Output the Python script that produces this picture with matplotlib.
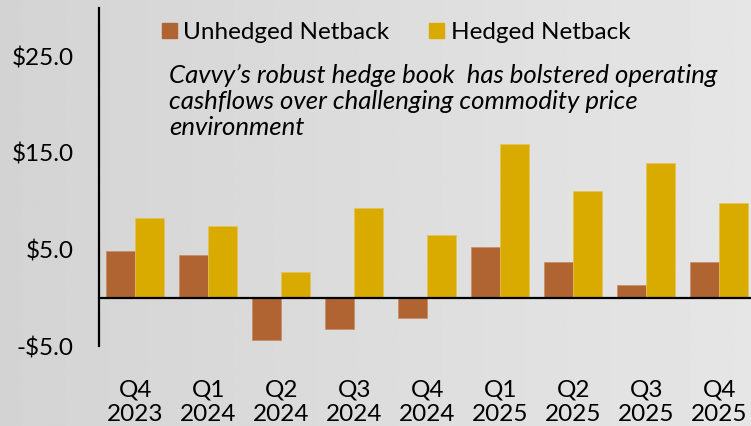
import numpy as np
import matplotlib
matplotlib.use("Agg")
import matplotlib.pyplot as plt
from matplotlib.patches import Patch

quarters = ["Q4\n2023", "Q1\n2024", "Q2\n2024", "Q3\n2024", "Q4\n2024",
            "Q1\n2025", "Q2\n2025", "Q3\n2025", "Q4\n2025"]
unhedged = [4.8, 4.45, -4.35, -3.25, -2.1, 5.3, 3.75, 1.35, 3.75]
hedged = [8.3, 7.4, 2.7, 9.3, 6.5, 15.9, 11.1, 13.9, 9.8]
yticks = [-5, 5, 15, 25]
ytick_labels = ["-$5.0", "$5.0", "$15.0", "$25.0"]
series_names = ["Unhedged Netback", "Hedged Netback"]
note = ("Cavvy\u2019s robust hedge book  has bolstered operating\n"
        "cashflows over challenging commodity price\n"
        "environment")

c_unh = "#B06432"
c_hed = "#D9AA00"
FONT = "Lato"
plt.rcParams["font.family"] = [FONT, "DejaVu Sans"]

W, H = 751, 426
fig = plt.figure(figsize=(W / 100, H / 100), dpi=100)
fig.patch.set_facecolor("#d8d8d8")

# background gradient (styling only)
bg = fig.add_axes([0, 0, 1, 1], zorder=-10)
gx = np.linspace(0, 1, 300)
grad = np.tile(0.83 + 0.07 * gx, (50, 1))
bg.imshow(grad, cmap="gray", vmin=0, vmax=1, aspect="auto", extent=[0, 1, 0, 1])
bg.axis("off")

left = 98.7 / W
bottom = (H - 346) / H
top = (H - 8) / H
ax = fig.add_axes([left, bottom, 657 / W, top - bottom])
ax.patch.set_alpha(0)

x = np.arange(len(quarters))
bw = 0.397
ax.bar(x - bw / 2, unhedged, bw, color=c_unh, edgecolor="#c98a60", linewidth=0.5, label=series_names[0])
ax.bar(x + bw / 2, hedged, bw, color=c_hed, edgecolor="#e6c453", linewidth=0.5, label=series_names[1])

ax.set_xlim(-0.5, len(quarters) - 0.5)
ax.set_ylim(-5, 30)
ax.tick_params(axis="both", length=0, labelsize=17.5)
ax.tick_params(axis="y", pad=18)
ax.tick_params(axis="x", pad=59)
ax.set_yticks(yticks)
ax.set_yticklabels(ytick_labels)
ax.set_xticks(x)
ax.set_xticklabels(quarters, linespacing=1.18)
for s in ["top", "right"]:
    ax.spines[s].set_visible(False)
ax.spines["bottom"].set_position(("data", 0))
ax.spines["bottom"].set_linewidth(1.6)
ax.spines["left"].set_linewidth(1.6)

handles = [Patch(color=c_unh), Patch(color=c_hed)]
fig.legend(handles, series_names, loc="upper left", bbox_to_anchor=(162 / W, 1 - 22 / H),
           ncol=2, frameon=False, prop={"family": FONT, "size": 17.5},
           handlelength=0.62, handleheight=0.62, handletextpad=0.25, columnspacing=1.65,
           borderpad=0, borderaxespad=0)

fig.text(169 / W, 1 - 64 / H, note, family=FONT, style="italic", fontsize=18.5,
         va="top", ha="left", linespacing=1.15)

fig.savefig("out.png", dpi=100, facecolor=fig.get_facecolor())
